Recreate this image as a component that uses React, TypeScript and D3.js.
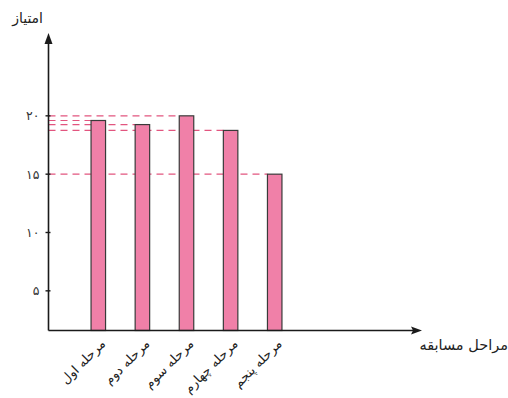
import React from "react";
import * as d3 from "d3";

const categories = ["مرحله اول", "مرحله دوم", "مرحله سوم", "مرحله چهارم", "مرحله پنجم"];
const scores = [19.6, 19.25, 20, 18.75, 15];
const tickValues = [5, 10, 15, 20];
const tickLabels = ["۵", "۱۰", "۱۵", "۲۰"];
const yTitle = "امتیاز";
const xTitle = "مراحل مسابقه";

const W = 508, H = 398;
const axisX = 48.5, axisY = 330.5;
const yScale = d3.scaleLinear().domain([1.6, 27.1]).range([axisY, 33]);
const xScale = d3.scalePoint<string>().domain(categories).range([98.3, 274.7]);
const barW = 14.5;
const font = "'DejaVu Sans', sans-serif";

export default function App() {
  return (
    <svg width={W} height={H} style={{ position: "absolute", left: 0, top: 0, background: "#fff" }}>
      {scores.map((v, i) => (
        <line key={"d" + i} x1={axisX} x2={(xScale(categories[i]) as number) - barW / 2} y1={yScale(v)} y2={yScale(v)}
          stroke="#e2557f" strokeWidth={1.1} strokeDasharray="7,5" />
      ))}
      {scores.map((v, i) => (
        <rect key={"b" + i} x={(xScale(categories[i]) as number) - barW / 2} y={yScale(v)} width={barW}
          height={axisY - yScale(v)} fill="#f080a8" stroke="#3a3a3a" strokeWidth={1.2} />
      ))}
      <line x1={axisX} x2={axisX} y1={axisY} y2={yScale(27.1) + 6} stroke="#1a1a1a" strokeWidth={1.6} />
      <path d={`M${axisX},${yScale(27.1)} L${axisX - 4},${yScale(27.1) + 11} L${axisX + 4},${yScale(27.1) + 11} Z`} fill="#1a1a1a" />
      <line x1={axisX} x2={418} y1={axisY} y2={axisY} stroke="#1a1a1a" strokeWidth={1.6} />
      <path d={`M${422},${axisY} L${411},${axisY - 4} L${413},${axisY} L${411},${axisY + 4} Z`} fill="#1a1a1a" />
      {tickValues.map((t, i) => (
        <g key={"t" + i}>
          <line x1={axisX - 3} x2={axisX + 2} y1={yScale(t)} y2={yScale(t)} stroke="#1a1a1a" strokeWidth={1.4} />
          <text x={axisX - 9} y={yScale(t) + 4.5} fontSize={12.5} fontFamily={font} textAnchor="end" fill="#333">{tickLabels[i]}</text>
        </g>
      ))}
      {categories.map((c, i) => {
        const x = (xScale(c) as number) + 8;
        const y = axisY + 14;
        return (
          <text key={"x" + i} x={x} y={y} transform={`rotate(-45 ${x} ${y})`} fontSize={13} fontFamily={font}
            textAnchor="end" fill="#222">{c}</text>
        );
      })}
      <text x={43} y={23} fontSize={14} fontFamily={font} textAnchor="end" fill="#222">{yTitle}</text>
      <text x={508} y={350} fontSize={14.5} fontFamily={font} textAnchor="end" fill="#222">{xTitle}</text>
    </svg>
  );
}
